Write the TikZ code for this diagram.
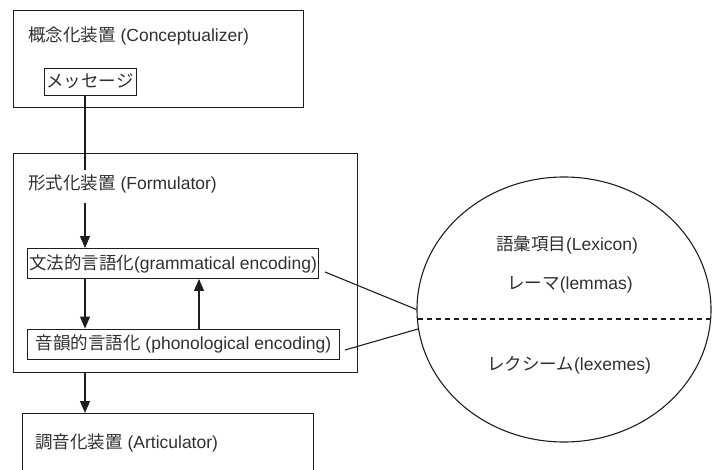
\documentclass[tikz,border=0pt]{standalone}
\usepackage{fontspec}
\setmainfont{Liberation Sans}
\newfontfamily\cjk{Noto Sans CJK JP}
\usetikzlibrary{shapes.geometric,arrows.meta}
\definecolor{ink}{HTML}{1E1E1E}
\definecolor{txt}{HTML}{303030}
\begin{document}
\begin{tikzpicture}[x=1pt,y=-1pt,
  every node/.style={font=\fontsize{17.5}{20}\selectfont, text=txt},
  box/.style={draw=ink, line width=1.1pt, inner sep=0pt},
  lbl/.style={inner sep=0pt, anchor=west},
  tbox/.style={draw=ink, line width=0.9pt, inner sep=1pt, minimum height=30pt},
  con/.style={draw=ink, line width=1.1pt},
  arr/.style={con, -{Triangle[width=10pt,length=12pt]}}]
\path[use as bounding box] (0,0) rectangle (712,470);
\clip (0,0) rectangle (712,470);

% Conceptualizer
\node[box, minimum width=290pt, minimum height=97pt, anchor=north west] (concept) at (13,10) {};
\node[lbl] (conceptT) at (28,36) {{\cjk 概念化装置} (Conceptualizer)};
\node[tbox, minimum width=92pt, minimum height=27pt] (msg) at (90,81.5) {\cjk メッセージ};

% Formulator
\node[box, minimum width=344pt, minimum height=219pt, anchor=north west] (form) at (13,153) {};
\node[lbl] (formT) at (28,184) {{\cjk 形式化装置} (Formulator)};
\node[tbox, minimum width=291pt, anchor=west] (gram) at (27,263.5) {{\cjk 文法的言語化}(grammatical encoding)};
\node[tbox, minimum width=312pt, anchor=west] (phon) at (27,344) {{\cjk 音韻的言語化} (phonological encoding)};

% Articulator
\node[box, minimum width=291pt, minimum height=90pt, anchor=north west] (artic) at (22,413) {};
\node[lbl] (articT) at (35,443) {{\cjk 調音化装置} (Articulator)};

% Lexicon
\node[box, ellipse, minimum width=294pt, minimum height=265pt] (lex) at (564,309.5) {};
\node (lexT) at (567,245) {{\cjk 語彙項目}(Lexicon)};
\node (lemT) at (570,285) {{\cjk レーマ}(lemmas)};
\node (lxmT) at (569,365) {{\cjk レクシーム}(lexemes)};
\coordinate (dL) at (417.5,319);
\coordinate (dR) at (711,319);
\draw[con, dash pattern=on 5pt off 4pt] (dL) -- (dR);

% connectors
\coordinate (c1) at (85,170);
\coordinate (c2) at (85,203);
\coordinate (c3) at (199,300);
\draw[con] (msg.south -| c1) -- (c1);
\draw[arr] (c2) -- (c2 |- gram.north);
\draw[arr] (gram.south -| c2) -- (phon.north -| c2);
\draw[arr] (phon.north -| c3) -- (gram.south -| c3);
\draw[arr] (form.south -| c2) -- (artic.north -| c2);

\coordinate (g1) at (325,272);
\coordinate (p1) at (345,350);
\coordinate (p2) at (418,329);
\draw[con] (g1) -- (lex.west);
\draw[con] (p1) -- (p2);
\end{tikzpicture}
\end{document}
